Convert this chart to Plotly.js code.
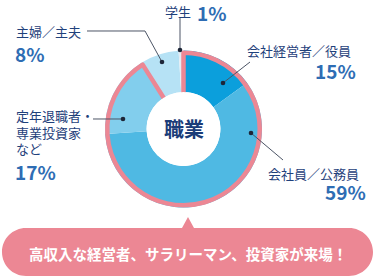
<!DOCTYPE html>
<html>
<head>
<meta charset="utf-8">
<script src="https://cdn.plot.ly/plotly-3.0.1.min.js"></script>
<style>
  html, body { margin: 0; padding: 0; background: #fff; }
  #chart { width: 375px; height: 277px; }
</style>
</head>
<body>
<div id="chart"></div>
<script>
// Occupation breakdown of visitors (%)
const categories = ['会社経営者／役員', '会社員／公務員', '定年退職者・専業投資家など', '主婦／主夫', '学生'];
const labelLines = [['会社経営者／役員'], ['会社員／公務員'], ['定年退職者・', '専業投資家', 'など'], ['主婦／主夫'], ['学生']];
const shares = [15, 59, 17, 8, 1];
const sliceColors = ['#0b9fdc', '#4fb9e3', '#82ceed', '#b6e2f5', '#e4ecf4'];
const highlightCount = 3;           // salaried / executive / investor groups
const centerTitle = '職業';
const bannerText = '高収入な経営者、サラリーマン、投資家が来場！';

const W = 375, H = 277;
const PINK = '#ec8794';
const NAVY = '#1f417b';
const BLUE = '#2e6db4';
const FONT = '"Noto Sans CJK JP", "Noto Sans", sans-serif';

// pixel helpers -> paper coordinates
const px = x => x / W;
const py = y => 1 - y / H;
function dom(cx, cy, r) {
  return { x: [px(cx - r), px(cx + r)], y: [py(cy + r), py(cy - r)] };
}
function path(cmds) {
  return cmds.map(c => c[0] + ' ' + c.slice(1).reduce((s, v, i) =>
    s + (i % 2 === 0 ? px(v).toFixed(5) : ',' + py(v).toFixed(5) + ' '), '')).join(' ');
}

const CX = 183.5, CY = 129, R = 78.5;

const highlighted = shares.slice(0, highlightCount).reduce((a, b) => a + b, 0);
const rest = shares.slice(highlightCount).reduce((a, b) => a + b, 0);

const traces = [
  {
    type: 'pie', values: shares, labels: categories, sort: false,
    direction: 'clockwise', rotation: 0, hole: 0.47,
    marker: { colors: sliceColors, line: { width: 0 } },
    textinfo: 'none', hoverinfo: 'skip', showlegend: false,
    domain: dom(CX, CY, R)
  },
  {
    // pink outline around the highlighted group
    type: 'pie', values: [highlighted, rest], labels: ['a', 'b'], sort: false,
    direction: 'clockwise', rotation: 0, hole: 0.3,
    marker: {
      colors: ['rgba(0,0,0,0)', 'rgba(0,0,0,0)'],
      line: { color: [PINK, 'rgba(0,0,0,0)'], width: [4.5, 0] }
    },
    textinfo: 'none', hoverinfo: 'skip', showlegend: false,
    domain: dom(CX, CY, R - 2.25)
  },
  {
    // white centre disc
    type: 'pie', values: [1], labels: ['c'], sort: false,
    marker: { colors: ['#ffffff'], line: { width: 0 } },
    textinfo: 'none', hoverinfo: 'skip', showlegend: false,
    domain: dom(CX, CY, 37)
  }
];

const LINE = { color: '#4c5566', width: 1 };
const shapes = [];
function leader(points) {
  const cmds = points.map((p, i) => [i === 0 ? 'M' : 'L', p[0], p[1]]);
  shapes.push({ type: 'path', xref: 'paper', yref: 'paper', path: path(cmds), line: LINE });
  const d = points[points.length - 1];
  shapes.push({
    type: 'circle', xref: 'paper', yref: 'paper',
    x0: px(d[0] - 2.3), x1: px(d[0] + 2.3), y0: py(d[1] + 2.3), y1: py(d[1] - 2.3),
    fillcolor: '#1d2638', line: { width: 0 }
  });
}
leader([[250, 62], [223, 83]]);
leader([[283, 160], [251, 133]]);
leader([[93, 119], [123, 119]]);
leader([[87, 31], [145, 31], [162, 62]]);
leader([[180, 18], [180, 50]]);

// speech-bubble banner
const k = 13.25;
shapes.push({
  type: 'path', xref: 'paper', yref: 'paper', layer: 'below',
  fillcolor: PINK, line: { width: 0 },
  path: path([
    ['M', 26, 228], ['L', 182, 228], ['L', 188, 217], ['L', 194, 228], ['L', 349, 228],
    ['C', 349 + k, 228, 373, 252 - k, 373, 252],
    ['C', 373, 252 + k, 349 + k, 276, 349, 276],
    ['L', 26, 276],
    ['C', 26 - k, 276, 2, 252 + k, 2, 252],
    ['C', 2, 252 - k, 26 - k, 228, 26, 228],
    ['Z']
  ])
});

function note(text, x, y, xanchor, size, color, weight) {
  return {
    text: text, xref: 'paper', yref: 'paper', x: px(x), y: py(y),
    xanchor: xanchor, yanchor: 'middle', showarrow: false, align: 'left',
    borderpad: 0,
    font: { family: FONT, size: size, color: color, weight: weight || 'normal' }
  };
}
const pct = i => shares[i] + '%';

const annotations = [
  note(labelLines[0][0], 246, 50, 'left', 13, NAVY),
  note(pct(0), 357, 70, 'right', 19, BLUE, 'bold'),
  note(labelLines[1][0], 267, 173, 'left', 13, NAVY),
  note(pct(1), 367, 191, 'right', 19, BLUE, 'bold'),
  note(labelLines[2][0], 15, 116, 'left', 13, NAVY),
  note(labelLines[2][1], 15, 132.5, 'left', 13, NAVY),
  note(labelLines[2][2], 15, 148, 'left', 13, NAVY),
  note(pct(2), 14, 171, 'left', 19, BLUE, 'bold'),
  note(labelLines[3][0], 15, 32, 'left', 13, NAVY),
  note(pct(3), 14, 53, 'left', 19, BLUE, 'bold'),
  note(labelLines[4][0], 192, 12, 'right', 13, NAVY),
  note(pct(4), 196, 12.5, 'left', 19, BLUE, 'bold'),
  note(centerTitle, CX, 128, 'center', 20, '#1b3c78', 'bold'),
  note(bannerText, 188, 253, 'center', 14.5, '#ffffff', 'bold')
];

const layout = {
  width: W, height: H,
  margin: { l: 0, r: 0, t: 0, b: 0 },
  paper_bgcolor: '#ffffff', plot_bgcolor: '#ffffff',
  showlegend: false,
  shapes: shapes,
  annotations: annotations
};

Plotly.newPlot('chart', traces, layout, { staticPlot: true, displayModeBar: false });
</script>
</body>
</html>
